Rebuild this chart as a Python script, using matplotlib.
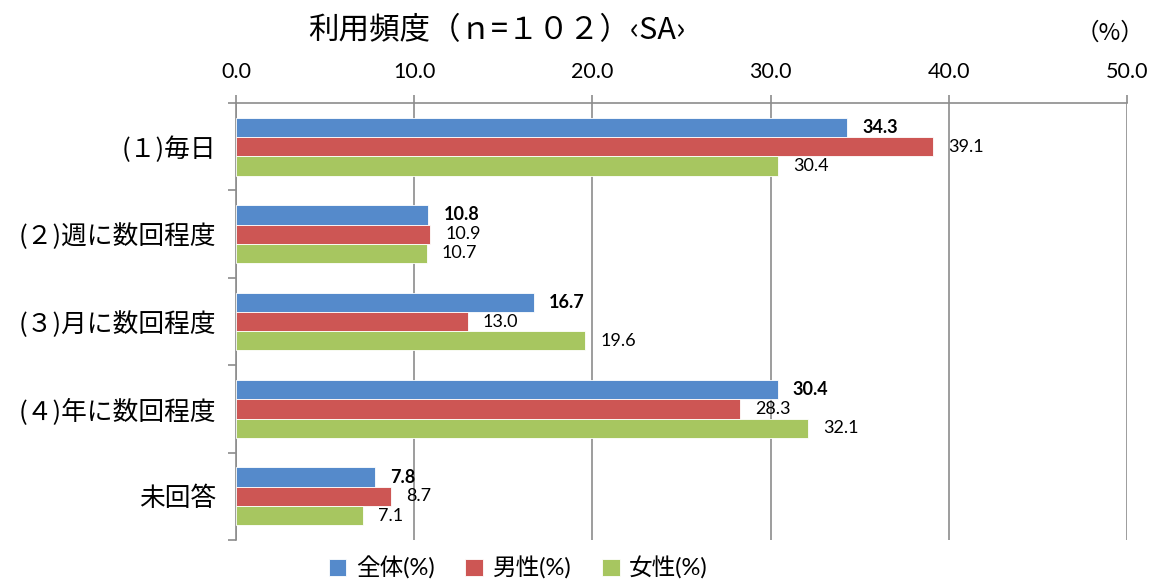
import matplotlib.pyplot as plt
import numpy as np

plt.rcParams['font.family'] = ['Lato', 'Noto Sans CJK JP', 'DejaVu Sans']

categories = ['(１)毎日', '(２)週に数回程度', '(３)月に数回程度', '(４)年に数回程度', '未回答']
series_names = ['全体(%)', '男性(%)', '女性(%)']
total = [34.3, 10.8, 16.7, 30.4, 7.8]
male = [39.1, 10.9, 13.0, 28.3, 8.7]
female = [30.4, 10.7, 19.6, 32.1, 7.1]
xticks = [0, 10, 20, 30, 40, 50]

colors = ['#558ACB', '#CD5654', '#A7C660']
grid_col = '#8C8C8C'

fig = plt.figure(figsize=(11.57, 5.81), dpi=100)
ax = fig.add_axes([0.204, 0.0706, 0.770, 0.752])

y = np.arange(len(categories))
h = 0.22

for i, (vals, col) in enumerate(zip([total, male, female], colors)):
    pos = y + (i - 1) * h
    ax.barh(pos, vals, height=h, color=col, edgecolor='white',
            linewidth=0.6, label=series_names[i], zorder=3)
    for p, v in zip(pos, vals):
        ax.annotate(f'{v:.1f}', (v, p), xytext=(11, 0),
                    textcoords='offset points', ha='left', va='center',
                    fontsize=13, fontweight='bold' if i == 0 else 'normal',
                    color='black', zorder=4)

ax.set_xlim(0, 50)
ax.set_ylim(len(categories) - 0.5, -0.5)
ax.set_xticks(xticks)
ax.set_xticklabels([f'{t:.1f}' for t in xticks], fontsize=15.5)
ax.xaxis.tick_top()
ax.tick_params(axis='x', length=6, width=1.2, color=grid_col, pad=9)

ax.set_yticks(y)
ax.set_yticklabels(categories, fontsize=18.5, family=['Noto Sans CJK JP'])
ax.set_yticks(np.arange(len(categories) + 1) - 0.5, minor=True)
ax.tick_params(axis='y', which='major', length=0, pad=14)
ax.tick_params(axis='y', which='minor', length=6, width=1.2, color=grid_col)

ax.grid(axis='x', color=grid_col, linewidth=1.2, zorder=0)
for s in ['right', 'bottom']:
    ax.spines[s].set_visible(False)
for s in ['top', 'left']:
    ax.spines[s].set_color(grid_col)
    ax.spines[s].set_linewidth(1.2)

fig.text(0.429, 0.948, '利用頻度（ｎ=１０２）‹SA›', ha='center', va='center',
         fontsize=22, family=['Noto Sans CJK JP', 'DejaVu Sans'])
fig.text(0.959, 0.943, '（%）', ha='center', va='center', fontsize=17,
         family=['Noto Sans CJK JP'])

leg = fig.legend(loc='center', bbox_to_anchor=(0.448, 0.022), ncol=3,
                 frameon=False, fontsize=17, handlelength=0.75,
                 handleheight=0.75, handletextpad=0.4, columnspacing=1.3)

plt.savefig('out.png', dpi=100)
plt.close()
